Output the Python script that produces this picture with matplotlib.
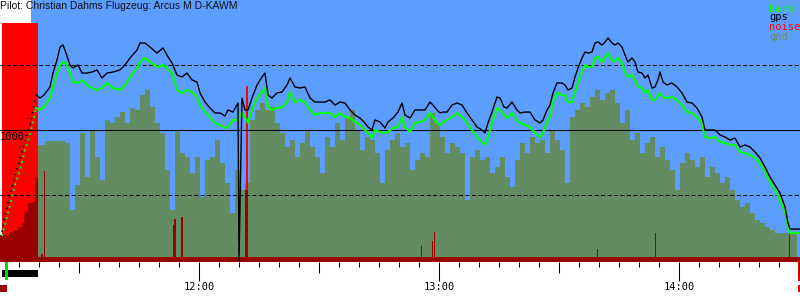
import matplotlib
matplotlib.use("Agg")
import matplotlib.pyplot as plt
from matplotlib.ticker import MultipleLocator
import matplotlib.transforms as mtrans

# ---------------- data (time = minutes after 11:00) ----------------
title = "Pilot: Christian Dahms Flugzeug: Arcus M D-KAWM"
series_labels = ["baro", "gps", "noise", "gnd"]

track_min = [
    10.75, 11.5, 12.75, 14.0, 15.25, 16.5, 17.75, 18.75, 19.25, 20.25,
    21.25, 22.75, 23.5, 24.5, 25.25, 26.0, 26.75, 27.75, 28.5, 29.75,
    30.75, 32.0, 33.25, 34.5, 35.75, 37.0, 38.5, 40.25, 41.5, 42.75,
    44.5, 45.25, 46.5, 47.75, 49.5, 51.0, 52.0, 53.25, 54.5, 55.75,
    57.0, 58.25, 59.5, 60.25, 61.5, 62.75, 64.0, 65.25, 66.5, 67.25,
    68.5, 69.75, 70.0, 70.75, 71.5, 72.25, 73.25, 74.5, 75.75, 76.5,
    77.25, 78.25, 79.5, 80.75, 82.0, 82.75, 84.0, 85.25, 86.5, 87.75,
    89.0, 90.25, 91.5, 92.75, 94.0, 95.25, 96.5, 97.75, 99.0, 100.25,
    101.5, 102.25, 103.25, 104.0, 105.25, 106.5, 107.25, 108.5, 109.75, 110.75,
    111.5, 112.75, 114.0, 115.25, 116.5, 117.75, 118.5, 119.5, 120.25, 121.0,
    122.0, 123.25, 124.5, 125.75, 127.0, 128.25, 129.5, 130.75, 131.5, 132.25,
    133.25, 134.5, 135.25, 136.25, 137.0, 138.25, 139.5, 140.25, 141.5, 142.75,
    144.0, 145.25, 146.0, 147.0, 147.75, 148.5, 149.5, 150.75, 151.5, 152.25,
    153.25, 154.0, 154.75, 155.75, 156.5, 157.25, 158.25, 159.0, 159.75, 160.75,
    161.5, 162.25, 163.25, 164.0, 164.75, 165.75, 166.5, 167.25, 168.25, 169.0,
    169.75, 170.75, 171.5, 172.25, 173.25, 174.0, 174.75, 175.25, 176.0, 177.0,
    178.25, 179.5, 180.75, 182.0, 183.25, 184.5, 185.75, 186.5, 187.75, 189.0,
    190.25, 191.5, 192.75, 194.0, 195.25, 196.5, 197.75, 199.0, 200.25, 201.5,
    202.75, 204.0, 205.25, 206.5, 207.25, 207.75, 210.25]

gps_alt = [
    215, 346, 500, 654, 769, 923, 1038, 1192, 1269, 1246,
    1269, 1331, 1438, 1538, 1638, 1654, 1592, 1500, 1477, 1500,
    1438, 1438, 1446, 1462, 1400, 1438, 1446, 1462, 1500, 1554,
    1615, 1669, 1669, 1638, 1592, 1631, 1577, 1515, 1423, 1408,
    1438, 1385, 1369, 1285, 1215, 1169, 1131, 1131, 1108, 1154,
    1138, 1208, 0, 1246, 1154, 1154, 1246, 1346, 1408, 1438,
    1269, 1246, 1285, 1292, 1346, 1400, 1331, 1323, 1331, 1246,
    1215, 1215, 1215, 1231, 1192, 1215, 1208, 1154, 1115, 1092,
    1054, 1023, 1000, 1077, 1062, 1015, 1062, 1092, 1138, 1208,
    1115, 1092, 1154, 1154, 1154, 1215, 1192, 1154, 1131, 1138,
    1138, 1192, 1208, 1192, 1131, 1077, 1023, 1000, 977, 1054,
    1138, 1254, 1246, 1177, 1169, 1215, 1154, 1131, 1138, 1138,
    1077, 1054, 1077, 1154, 1192, 1285, 1362, 1362, 1346, 1308,
    1323, 1408, 1477, 1554, 1600, 1592, 1600, 1669, 1677, 1654,
    1677, 1708, 1669, 1654, 1669, 1638, 1577, 1523, 1554, 1523,
    1446, 1438, 1400, 1423, 1323, 1331, 1385, 1446, 1369, 1346,
    1362, 1331, 1285, 1215, 1208, 1169, 1100, 1000, 1000, 1000,
    962, 946, 923, 938, 869, 885, 869, 831, 785, 715,
    638, 577, 515, 408, 285, 238, 238]

baro_alt = [
    185, 269, 423, 577, 692, 846, 962, 1092, 1169, 1154,
    1177, 1246, 1331, 1438, 1500, 1523, 1515, 1438, 1369, 1362,
    1385, 1346, 1323, 1308, 1323, 1362, 1323, 1308, 1346, 1408,
    1477, 1523, 1554, 1523, 1485, 1500, 1477, 1438, 1308, 1285,
    1308, 1292, 1254, 1192, 1138, 1100, 1054, 1038, 1015, 1023,
    1077, 1077, 1092, 1138, 1100, 1054, 1154, 1246, 1292, 1323,
    1177, 1154, 1169, 1177, 1215, 1292, 1215, 1231, 1215, 1154,
    1115, 1131, 1131, 1131, 1100, 1131, 1100, 1092, 1062, 1038,
    1000, 977, 938, 1000, 985, 977, 985, 1015, 1023, 1100,
    1023, 985, 1054, 1062, 1077, 1131, 1100, 1054, 1038, 1062,
    1077, 1100, 1131, 1100, 1054, 1000, 946, 908, 885, 946,
    1054, 1169, 1154, 1115, 1092, 1131, 1077, 1054, 1038, 1023,
    977, 946, 977, 1062, 1100, 1215, 1285, 1269, 1269, 1215,
    1215, 1292, 1362, 1446, 1500, 1485, 1485, 1554, 1562, 1523,
    1554, 1592, 1538, 1531, 1554, 1515, 1446, 1408, 1423, 1385,
    1331, 1323, 1285, 1308, 1231, 1231, 1269, 1285, 1254, 1246,
    1254, 1231, 1192, 1138, 1131, 1100, 1054, 946, 938, 946,
    908, 900, 885, 885, 831, 823, 808, 785, 746, 677,
    600, 538, 462, 369, 254, 208, 208]

climb_end_min = 19.25  # end of the sparse (dotted) launch climb

gnd_min = [
    10.75, 12.0, 13.25, 14.5, 15.75, 17.0, 18.25, 19.5, 20.75, 22.0,
    23.25, 24.5, 25.75, 27.0, 28.25, 29.5, 30.75, 32.0, 33.25, 34.5,
    35.75, 37.0, 38.25, 39.5, 40.75, 42.0, 43.25, 44.5, 45.75, 47.0,
    48.25, 49.5, 50.75, 52.0, 53.25, 54.5, 55.75, 57.0, 58.25, 59.5,
    60.75, 62.0, 63.25, 64.5, 65.75, 67.0, 68.25, 69.5, 70.75, 72.0,
    73.25, 74.5, 75.75, 77.0, 78.25, 79.5, 80.75, 82.0, 83.25, 84.5,
    85.75, 87.0, 88.25, 89.5, 90.75, 92.0, 93.25, 94.5, 95.75, 97.0,
    98.25, 99.5, 100.75, 102.0, 103.25, 104.5, 105.75, 107.0, 108.25, 109.5,
    110.75, 112.0, 113.25, 114.5, 115.75, 117.0, 118.25, 119.5, 120.75, 122.0,
    123.25, 124.5, 125.75, 127.0, 128.25, 129.5, 130.75, 132.0, 133.25, 134.5,
    135.75, 137.0, 138.25, 139.5, 140.75, 142.0, 143.25, 144.5, 145.75, 147.0,
    148.25, 149.5, 150.75, 152.0, 153.25, 154.5, 155.75, 157.0, 158.25, 159.5,
    160.75, 162.0, 163.25, 164.5, 165.75, 167.0, 168.25, 169.5, 170.75, 172.0,
    173.25, 174.5, 175.75, 177.0, 178.25, 179.5, 180.75, 182.0, 183.25, 184.5,
    185.75, 187.0, 188.25, 189.5, 190.75, 192.0, 193.25, 194.5, 195.75, 197.0,
    198.25, 199.5, 200.75, 202.0, 203.25, 204.5, 205.75, 207.0, 208.25, 209.5]

gnd_alt = [
    185, 185, 185, 185, 185, 185, 185,
    885, 885, 918, 918, 918, 918, 897, 385, 577, 974,
    641, 1000, 795, 615, 1077, 1051, 1103, 1141, 1051, 1166,
    1154, 1269, 1308, 1179, 1051, 974, 692, 385, 1000, 821,
    795, 667, 795, 487, 770, 795, 923, 744, 590, 359,
    692, 538, 590, 1077, 1154, 1205, 1154, 1179, 1051, 974,
    872, 923, 795, 897, 1000, 872, 795, 667, 949, 872,
    1051, 923, 1103, 1154, 1000, 846, 949, 923, 821, 590,
    846, 923, 974, 872, 897, 692, 770, 821, 795, 1128,
    1051, 949, 821, 897, 872, 821, 462, 795, 846, 770,
    795, 667, 718, 795, 641, 564, 770, 897, 821, 949,
    897, 923, 821, 1000, 923, 846, 590, 1103, 1154, 1205,
    1179, 1256, 1308, 1231, 1282, 1308, 1205, 1051, 1154, 923,
    974, 821, 897, 949, 795, 872, 770, 692, 538, 744,
    821, 770, 718, 795, 641, 718, 667, 590, 641, 538,
    462, 410, 436, 359, 308, 282, 256, 231, 205, 205,
    205, 205, 205]

# noise (relative units, step values starting at each time)
noise_min = [10.25, 12.75, 13.5, 14.75, 15.75, 16.25, 16.75, 17.25, 18.25, 19.0,
             19.75, 20.5, 20.875, 21.25, 21.5, 53.5, 53.75, 54.25, 55.5, 56.0,
             71.5, 72.25, 115.5, 115.75, 118.25, 118.5, 118.75, 119.0, 159.5, 159.75,
             174.0, 174.25, 207.5, 207.75, 210.25]
noise_val = [113, 126, 134, 147, 164, 206, 218, 248, 252, 353,
             21, 34, 21, 382, 21, 155, 180, 21, 189, 21,
             302, 21, 67, 21, 88, 21, 126, 21, 55, 21,
             122, 21, 122, 21, 21]
noise_peak_min = [10.75, 19.7, 71.85, 72.15]
noise_peak_val = [1003, 0, 739, 0]

takeoff_min = (11.5, 12.2)
engine_min = (10.75, 19.75)
marker_min = (10.25, 12.0)
landing_min = (209.8, 210.25)
sky_start_min = 18.0

xlim = (10.25, 210.25)
alt_lim = (-15.4, 2000)
noise_lim = (0, 1100)
hour_ticks = [30, 60, 90, 120, 150, 180, 210]
hour_labels = ["", "12:00", "", "13:00", "", "14:00", ""]

# ---------------- style ----------------
BLUE = "#5C9EFF"
GND = "#638C63"
DARKRED = "#990000"
RED = "#FF0000"
GREEN = "#00FF00"
MONO = "DejaVu Sans Mono"

fig = plt.figure(figsize=(8, 3), dpi=100)
rect = [0, 1 - 262 / 300, 1, 262 / 300]
ax_bg = fig.add_axes(rect)
ax_noise = fig.add_axes(rect, sharex=ax_bg)
ax_top = fig.add_axes(rect, sharex=ax_bg, sharey=ax_bg)

ax_bg.set_xlim(*xlim)
ax_bg.set_ylim(*alt_lim)
ax_noise.set_ylim(*noise_lim)
for a in (ax_noise, ax_top):
    a.axis("off")
for s in ax_bg.spines.values():
    s.set_visible(False)
ax_bg.set_facecolor("white")
ax_bg.set_yticks([])

# sky + ground
ax_bg.axvspan(sky_start_min, xlim[1], color=BLUE, lw=0, zorder=0)
ax_bg.fill_between(gnd_min, gnd_alt, step="mid", color=GND, lw=0, zorder=1)

# noise
ax_noise.fill_between(noise_peak_min, noise_peak_val, step="post", color=RED, lw=0, zorder=1)
ax_noise.fill_between(noise_min, noise_val, step="post", color=DARKRED, lw=0, zorder=2)

# reference lines
lw1 = 0.75
ax_top.axhline(1000, color="black", lw=lw1, zorder=1)
for v in (500, 1500):
    ax_top.axhline(v, color="black", lw=lw1, ls=(0, (3.8, 2.4)), zorder=1)

# tracks
n_climb = sum(1 for t in track_min if t <= climb_end_min)
ax_top.plot(track_min[:n_climb], baro_alt[:n_climb], color=GREEN, lw=1.4,
            ls=(0, (1, 2)), zorder=3)
ax_top.plot(track_min[:n_climb], gps_alt[:n_climb], color="black", lw=1.2,
            ls=(0, (1, 2.5)), zorder=4)
ax_top.plot(track_min[n_climb - 1:], baro_alt[n_climb - 1:], color=GREEN, lw=1.5, zorder=3)
ax_top.plot(track_min[n_climb - 1:], gps_alt[n_climb - 1:], color="black", lw=1.0, zorder=4)

ax_top.text(xlim[0], 985, "1000", ha="left", va="top", fontsize=7.5,
            family=MONO, color="black", zorder=6)

# x axis ticks
ax_bg.set_xticks(hour_ticks)
ax_bg.set_xticklabels(hour_labels, family=MONO)
ax_bg.xaxis.set_minor_locator(MultipleLocator(5))
ax_bg.tick_params(axis="x", which="major", length=7.9, width=0.75, direction="out",
                  pad=6.6, labelsize=7.5, color="black")
ax_bg.tick_params(axis="x", which="minor", length=3.6, width=0.75, direction="out",
                  color="black")
for tk, lab in zip(ax_bg.xaxis.get_major_ticks(), hour_labels):
    if lab:
        tk.tick1line.set_markersize(13.7)

# event markers below the axis
trans = mtrans.blended_transform_factory(ax_bg.transData, ax_bg.transAxes)
def bar_below(x0, x1, y0px, y1px, color):
    h = 262.0
    ax_bg.add_patch(plt.Rectangle((x0, -y1px / h), x1 - x0, (y1px - y0px) / h,
                                  transform=trans, color=color, lw=0, clip_on=False))
bar_below(engine_min[0], engine_min[1], 8, 15, "black")
bar_below(takeoff_min[0], takeoff_min[1], 0, 18, "#00DD00")
bar_below(marker_min[0], marker_min[1], 23, 30, DARKRED)
bar_below(landing_min[0], landing_min[1], 0, 19, "#E00000")
bar_below(landing_min[0], landing_min[1], 23, 30, "#E00000")

# title and legend
fig.text(0.0, 1 - 1 / 300, title, ha="left", va="top", fontsize=7.5,
         family="Liberation Sans", color="#111111")
leg_colors = [GREEN, "black", RED, GND]
leg_base = [11.5, 20.5, 30.5, 39.5]
for lab, col, yb in zip(series_labels, leg_colors, leg_base):
    fig.text(769 / 800, 1 - yb / 300, lab, ha="left", va="baseline", fontsize=7.5,
             family=MONO, color=col)

fig.savefig("out.png", dpi=100)
